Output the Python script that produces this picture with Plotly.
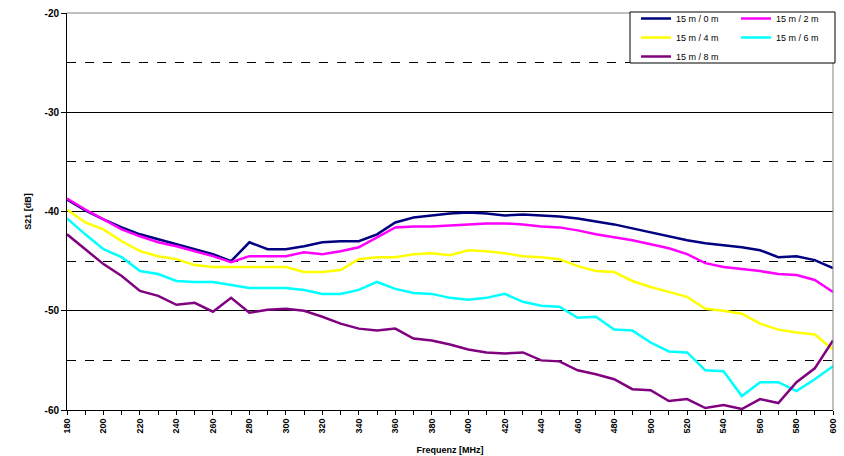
import plotly.graph_objects as go

FREQ_MHZ = [180, 190, 200, 210, 220, 230, 240, 250, 260, 270, 280, 290, 300, 310, 320,
            330, 340, 350, 360, 370, 380, 390, 400, 410, 420, 430, 440, 450, 460, 470,
            480, 490, 500, 510, 520, 530, 540, 550, 560, 570, 580, 590, 600]

S21_0M = [-38.8, -39.9, -40.8, -41.6, -42.3, -42.8, -43.3, -43.8, -44.3, -45.0,
          -43.1, -43.8, -43.8, -43.5, -43.1, -43.0, -43.0, -42.3, -41.1, -40.6,
          -40.4, -40.2, -40.1, -40.2, -40.4, -40.3, -40.4, -40.5, -40.7, -41.0,
          -41.3, -41.7, -42.1, -42.5, -42.9, -43.2, -43.4, -43.6, -43.9, -44.6,
          -44.5, -44.9, -45.7]

S21_2M = [-38.7, -39.8, -40.8, -41.8, -42.5, -43.1, -43.5, -44.0, -44.5, -45.1,
          -44.5, -44.5, -44.5, -44.1, -44.3, -44.0, -43.6, -42.6, -41.6, -41.5,
          -41.5, -41.4, -41.3, -41.2, -41.2, -41.3, -41.5, -41.6, -41.9, -42.3,
          -42.6, -42.9, -43.3, -43.7, -44.3, -45.2, -45.6, -45.8, -46.0, -46.3,
          -46.4, -46.9, -48.1]

S21_4M = [-39.8, -41.1, -41.8, -43.0, -44.0, -44.5, -44.8, -45.4, -45.6, -45.6,
          -45.6, -45.6, -45.6, -46.1, -46.1, -45.9, -44.8, -44.6, -44.6, -44.3,
          -44.2, -44.4, -43.9, -44.0, -44.2, -44.5, -44.6, -44.8, -45.5, -46.0,
          -46.1, -47.0, -47.6, -48.1, -48.6, -49.8, -50.0, -50.3, -51.3, -51.9,
          -52.2, -52.4, -53.9]

S21_6M = [-40.7, -42.3, -43.8, -44.6, -46.0, -46.3, -47.0, -47.1, -47.1, -47.4,
          -47.7, -47.7, -47.7, -47.9, -48.3, -48.3, -47.9, -47.1, -47.8, -48.2,
          -48.3, -48.7, -48.9, -48.7, -48.3, -49.1, -49.5, -49.6, -50.7, -50.6,
          -51.9, -52.0, -53.2, -54.1, -54.2, -56.0, -56.1, -58.6, -57.2, -57.2,
          -58.1, -56.9, -55.6]

S21_8M = [-42.3, -43.8, -45.3, -46.5, -48.0, -48.5, -49.4, -49.2, -50.1, -48.7,
          -50.2, -49.9, -49.8, -50.0, -50.6, -51.3, -51.8, -52.0, -51.8, -52.8,
          -53.0, -53.4, -53.9, -54.2, -54.3, -54.2, -55.0, -55.1, -56.0, -56.4,
          -56.9, -57.9, -58.0, -59.1, -58.9, -59.8, -59.5, -59.9, -58.9, -59.3,
          -57.2, -55.8, -53.0]

SERIES_NAMES = ["15 m / 0 m", "15 m / 2 m", "15 m / 4 m", "15 m / 6 m", "15 m / 8 m"]
SERIES_VALUES = [S21_0M, S21_2M, S21_4M, S21_6M, S21_8M]
SERIES_COLORS = ["#000080", "#FF00FF", "#FFFF00", "#00FFFF", "#800080"]
SERIES_LEGEND = ["legend", "legend2", "legend", "legend2", "legend"]

X_TICKS = [180, 200, 220, 240, 260, 280, 300, 320, 340, 360, 380, 400, 420, 440,
           460, 480, 500, 520, 540, 560, 580, 600]
Y_TICKS = [-60, -50, -40, -30, -20]
Y_TICK_TEXT = ["-60", "-50", "-40", "-30", "-20"]

FONT = "Liberation Sans"

fig = go.Figure()
for name, vals, col, lg in zip(SERIES_NAMES, SERIES_VALUES, SERIES_COLORS, SERIES_LEGEND):
    fig.add_trace(go.Scatter(x=FREQ_MHZ, y=vals, mode="lines", name=name,
                             line=dict(color=col, width=2.5), legend=lg))

W, H = 844, 456
L, R, T, B = 67, 11, 13, 46
pw, ph = W - L - R, H - T - B


def px_x(px):
    return (px - L) / pw


def px_y(py):
    return (H - B - py) / ph


fig.update_layout(
    width=W, height=H,
    margin=dict(l=L, r=R, t=T, b=B, autoexpand=False),
    paper_bgcolor="white", plot_bgcolor="white",
    font=dict(family=FONT, size=9, color="black"),
    xaxis=dict(
        range=[180, 600], tickvals=X_TICKS, ticktext=[str(v) for v in X_TICKS],
        tickangle=-90, ticks="outside", ticklen=4, tickcolor="black",
        showline=True, linecolor="black", linewidth=1, showgrid=False, zeroline=False,
        automargin=False,
        minor=dict(dtick=10, tick0=180, ticks="outside", ticklen=4, tickcolor="black", showgrid=False),
        tickfont=dict(family=FONT, size=9, color="black", weight="bold"),
        title=dict(text="Frequenz [MHz]", font=dict(family=FONT, size=9, color="black", weight="bold"),
                   standoff=14),
    ),
    yaxis=dict(
        range=[-60, -20], tickvals=Y_TICKS, ticktext=Y_TICK_TEXT,
        ticks="outside", ticklen=5, tickcolor="black",
        showline=True, linecolor="black", linewidth=1, zeroline=False, automargin=False,
        showgrid=True, gridcolor="black", gridwidth=1,
        minor=dict(dtick=5, tick0=-60, showgrid=True, griddash="dash", gridcolor="black",
                   gridwidth=1, ticks=""),
        tickfont=dict(family=FONT, size=10, color="black", weight="bold"),
        title=dict(text="S21 [dB]", font=dict(family=FONT, size=9, color="black", weight="bold"),
                   standoff=11),
    ),
    legend=dict(x=px_x(636), y=px_y(4), xanchor="left", yanchor="top",
                bgcolor="rgba(0,0,0,0)", borderwidth=0, tracegroupgap=0,
                font=dict(family=FONT, size=9, color="black")),
    legend2=dict(x=px_x(736), y=px_y(4), xanchor="left", yanchor="top",
                 bgcolor="rgba(0,0,0,0)", borderwidth=0, tracegroupgap=0,
                 font=dict(family=FONT, size=9, color="black")),
    shapes=[
        dict(type="line", xref="paper", yref="paper", x0=0, x1=1, y0=1, y1=1,
             line=dict(color="#808080", width=1), layer="above"),
        dict(type="line", xref="paper", yref="paper", x0=1, x1=1, y0=0, y1=1,
             line=dict(color="#808080", width=1), layer="above"),
        dict(type="rect", xref="paper", yref="paper", x0=px_x(630), x1=px_x(835),
             y0=px_y(63), y1=px_y(12), fillcolor="white",
             line=dict(color="black", width=1), layer="above"),
    ],
    showlegend=True,
)

fig.write_html("out.html")
